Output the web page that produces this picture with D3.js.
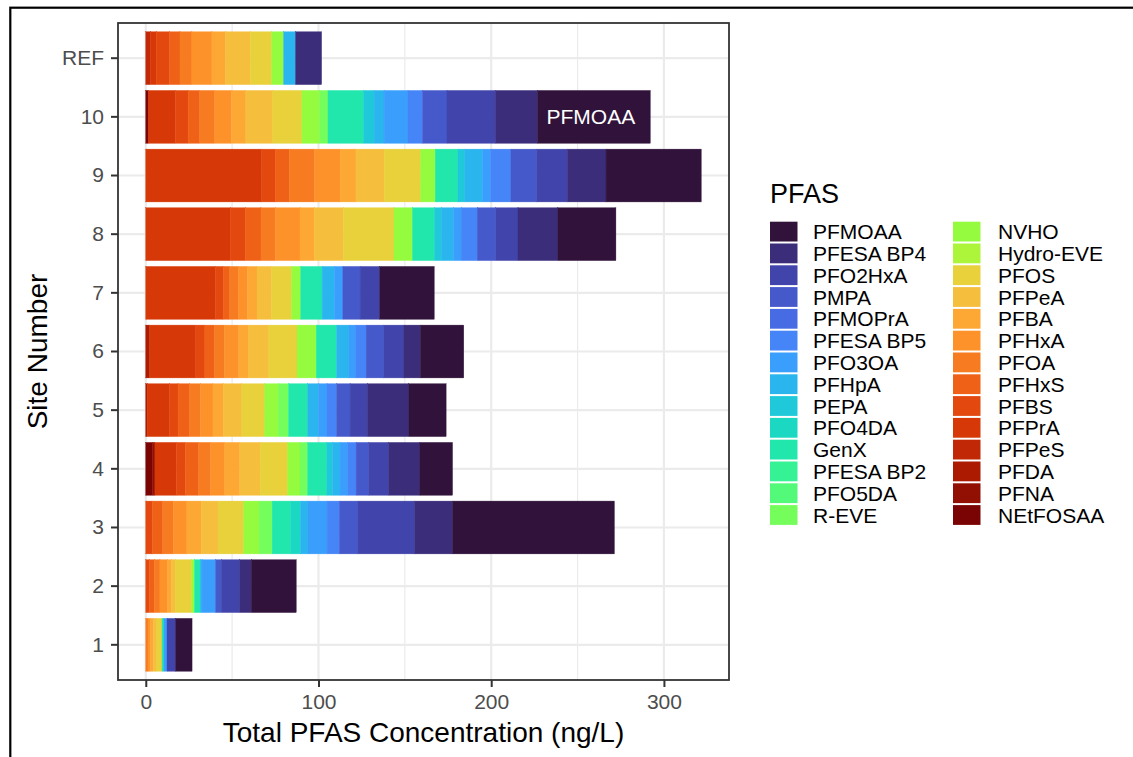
<!DOCTYPE html>
<html>
<head>
<meta charset="utf-8">
<script src="https://cdn.jsdelivr.net/npm/d3@7/dist/d3.min.js"></script>
<style>
body { margin: 0; background: #fff; }
svg { display: block; font-family: "Liberation Sans", Arial, Helvetica, sans-serif; }
</style>
</head>
<body>
<svg width="1133" height="757"></svg>
<script>
// sites from bottom to top
var sites = ["1", "2", "3", "4", "5", "6", "7", "8", "9", "10", "REF"];

// compounds in stacking order (left to right in each bar)
var compounds = ["NEtFOSAA", "PFNA", "PFDA", "PFPeS", "PFPrA", "PFBS", "PFHxS", "PFOA",
                 "PFHxA", "PFBA", "PFPeA", "PFOS", "Hydro-EVE", "NVHO", "R-EVE", "PFO5DA",
                 "PFESA BP2", "GenX", "PFO4DA", "PEPA", "PFHpA", "PFO3OA", "PFESA BP5",
                 "PFMOPrA", "PMPA", "PFO2HxA", "PFESA BP4", "PFMOAA"];

var colours = ["#7a0403", "#921003", "#ac1a02", "#c12805", "#d63907", "#e3490f", "#ef6117", "#f77b20",
               "#fe922a", "#fda835", "#f6be3d", "#e8d13b", "#adf53a", "#95fb3f", "#75fd5c", "#53fa79",
               "#35f295", "#22e7ad", "#1bd8c3", "#1fc9da", "#2bb5ee", "#3a9efc", "#4585f7",
               "#466be3", "#4559cb", "#4145ab", "#3b2d7a", "#30123b"];

// concentrations (ng/L), same order as compounds
var site1   = [0, 0, 0, 0, 0, 0, 0, 1.3, 1.3, 1.8, 2.0, 3.0, 0, 0, 0, 0, 0, 1.1, 0, 0, 0, 1.8, 0, 0, 0, 4.9, 0, 9.6];
var site2   = [0, 0, 0, 0, 0, 2.2, 2.7, 3.3, 4.4, 2.2, 2.2, 9.6, 0, 1.6, 0, 0, 0, 3.3, 0, 0, 1.1, 7.8, 0, 0, 3.3, 10.7, 6.7, 26.0];
var site3   = [0, 0, 0, 0, 0, 3.8, 6.0, 6.2, 7.8, 8.4, 9.6, 14.9, 0, 8.9, 7.6, 0, 0, 10.7, 5.6, 0, 4.4, 11.1, 7.1, 0, 10.7, 32.9, 22.0, 93.6];
var site4   = [3.8, 1.5, 0, 0, 12.4, 5.3, 7.6, 6.9, 8.2, 8.7, 11.8, 16.0, 0, 7.1, 4.4, 0, 0, 11.1, 0, 3.3, 4.4, 4.4, 4.9, 0, 7.3, 11.6, 18.0, 18.9];
var site5   = [0, 0, 0.9, 0, 12.9, 4.9, 6.7, 6.2, 7.3, 6.0, 10.7, 13.3, 0, 7.8, 6.0, 0, 0, 11.1, 0, 0, 6.2, 4.9, 5.6, 0, 7.8, 10.0, 24.0, 21.6];
var site6   = [0, 0, 2.2, 0, 26.7, 5.3, 5.6, 5.8, 8.2, 5.8, 11.6, 16.4, 0, 11.1, 0, 0, 0, 11.8, 0, 0, 7.1, 4.0, 6.0, 0, 10.2, 11.6, 9.6, 25.1];
var site7   = [0, 0, 0, 0, 40.4, 4.4, 3.8, 5.1, 5.1, 5.6, 8.4, 11.6, 0, 5.3, 0, 0, 0, 12.4, 0, 0, 7.1, 4.9, 0, 0, 10.0, 11.3, 0, 31.6];
var site8   = [0, 0, 0, 0, 48.9, 8.7, 9.1, 8.4, 14.2, 8.2, 16.9, 29.3, 0, 10.7, 0, 0, 0, 12.7, 0, 4.0, 7.1, 4.4, 9.3, 0, 10.7, 12.9, 23.1, 33.6];
var site9   = [0, 0, 0, 0, 67.1, 7.8, 8.2, 14.4, 15.1, 9.1, 16.4, 21.1, 0, 8.4, 0, 0, 0, 13.1, 0, 4.0, 10.2, 4.7, 11.8, 0, 14.9, 17.8, 22.4, 55.1];
var site10  = [1.6, 0, 0, 0, 15.6, 7.3, 6.7, 8.7, 9.6, 8.4, 15.6, 16.9, 0, 10.2, 4.9, 0, 0, 20.7, 0, 6.0, 5.8, 13.8, 8.4, 0, 14.2, 28.0, 24.4, 65.3];
var siteREF = [0, 0, 0, 2.7, 3.3, 7.8, 6.0, 6.9, 11.6, 7.8, 14.4, 12.4, 0, 6.9, 0, 0, 0, 0, 0, 0, 6.9, 0, 0, 0, 0, 0, 15.1, 0];
var siteValues = [site1, site2, site3, site4, site5, site6, site7, site8, site9, site10, siteREF];

var xTicks = [0, 100, 200, 300];
var xMinorTicks = [50, 150, 250];
var labelledSite = "10";
var labelledCompound = "PFMOAA";

function createChart() {
    var svg = d3.select("svg");
    var panel = {left: 118, right: 729, top: 23, bottom: 680};

    var table = sites.map((s, i) => {
        var row = {site: s};
        compounds.forEach((c, j) => row[c] = siteValues[i][j]);
        return row;
    });
    var series = d3.stack().keys(compounds)(table);
    var maxTotal = d3.max(series[series.length - 1], d => d[1]);

    var xScale = d3.scaleLinear()
        .domain([-0.05 * maxTotal, 1.05 * maxTotal])
        .range([panel.left, panel.right]);
    var yScale = d3.scaleBand()
        .domain(sites)
        .range([panel.bottom, panel.top])
        .paddingInner(0.1)
        .paddingOuter(0.15);
    var colour = d3.scaleOrdinal().domain(compounds).range(colours);

    // outer frame
    svg.append("rect")
        .attr("x", 10.3).attr("y", 7.7)
        .attr("width", 1300).attr("height", 900)
        .attr("fill", "none").attr("stroke", "#000").attr("stroke-width", 2.2);

    // grid
    var grid = svg.append("g");
    grid.selectAll("line.minor").data(xMinorTicks).enter().append("line")
        .attr("x1", d => xScale(d)).attr("x2", d => xScale(d))
        .attr("y1", panel.top).attr("y2", panel.bottom)
        .attr("stroke", "#ebebeb").attr("stroke-width", 1.2);
    grid.selectAll("line.majorx").data(xTicks).enter().append("line")
        .attr("x1", d => xScale(d)).attr("x2", d => xScale(d))
        .attr("y1", panel.top).attr("y2", panel.bottom)
        .attr("stroke", "#ebebeb").attr("stroke-width", 2.2);
    grid.selectAll("line.majory").data(sites).enter().append("line")
        .attr("x1", panel.left).attr("x2", panel.right)
        .attr("y1", d => yScale(d) + yScale.bandwidth() / 2)
        .attr("y2", d => yScale(d) + yScale.bandwidth() / 2)
        .attr("stroke", "#ebebeb").attr("stroke-width", 2.2);

    // stacked bars
    svg.append("g").selectAll("g")
        .data(series).enter().append("g")
        .attr("fill", d => colour(d.key))
        .attr("stroke", d => colour(d.key))
        .attr("stroke-width", 0.4)
        .selectAll("rect")
        .data(d => d.filter(p => p[1] - p[0] > 0))
        .enter().append("rect")
        .attr("x", d => xScale(d[0]))
        .attr("width", d => xScale(d[1]) - xScale(d[0]))
        .attr("y", d => yScale(d.data.site))
        .attr("height", yScale.bandwidth());

    // in-bar label
    var lab = series.find(s => s.key === labelledCompound)[sites.indexOf(labelledSite)];
    svg.append("text")
        .attr("x", xScale((lab[0] + lab[1]) / 2) - 3)
        .attr("y", yScale(labelledSite) + yScale.bandwidth() / 2)
        .attr("dy", "0.36em")
        .attr("text-anchor", "middle")
        .attr("fill", "#fff")
        .style("font-size", "21px")
        .text(labelledCompound);

    // panel border
    svg.append("rect")
        .attr("x", panel.left).attr("y", panel.top)
        .attr("width", panel.right - panel.left).attr("height", panel.bottom - panel.top)
        .attr("fill", "none").attr("stroke", "#333").attr("stroke-width", 1.8);

    // axes
    var yAxis = d3.axisLeft(yScale).tickSize(7).tickPadding(7);
    svg.append("g")
        .attr("transform", `translate(${panel.left},0)`)
        .call(yAxis)
        .call(g => g.select(".domain").remove())
        .attr("font-family", null).attr("font-size", 21)
        .call(g => g.selectAll("line").attr("stroke", "#333").attr("stroke-width", 2))
        .call(g => g.selectAll("text").attr("fill", "#4d4d4d"));

    var xAxis = d3.axisBottom(xScale).tickValues(xTicks).tickSize(7).tickPadding(7);
    svg.append("g")
        .attr("transform", `translate(0,${panel.bottom})`)
        .call(xAxis)
        .call(g => g.select(".domain").remove())
        .attr("font-family", null).attr("font-size", 21)
        .call(g => g.selectAll("line").attr("stroke", "#333").attr("stroke-width", 2))
        .call(g => g.selectAll("text").attr("fill", "#4d4d4d"));

    // axis titles
    svg.append("text")
        .attr("x", (panel.left + panel.right) / 2).attr("y", 742)
        .attr("text-anchor", "middle")
        .style("font-size", "28px")
        .text("Total PFAS Concentration (ng/L)");
    svg.append("text")
        .attr("transform", `translate(47,${(panel.top + panel.bottom) / 2}) rotate(-90)`)
        .attr("text-anchor", "middle")
        .style("font-size", "28px")
        .text("Site Number");

    // legend
    var legendOrder = compounds.slice().reverse();
    var legend = svg.append("g");
    legend.append("text")
        .attr("x", 770).attr("y", 203)
        .style("font-size", "27px")
        .text("PFAS");
    var items = legend.selectAll("g.item")
        .data(legendOrder).enter().append("g")
        .attr("transform", (d, i) => `translate(${i < 14 ? 770 : 953},${221.7 + (i % 14) * 21.8})`);
    items.append("rect")
        .attr("width", 27.5).attr("height", 19.8)
        .attr("fill", d => colour(d));
    items.append("text")
        .attr("x", (d, i) => i < 14 ? 43 : 45)
        .attr("y", 9.9)
        .attr("dy", "0.36em")
        .style("font-size", "21px")
        .text(d => d);
}
createChart();
</script>
</body>
</html>
